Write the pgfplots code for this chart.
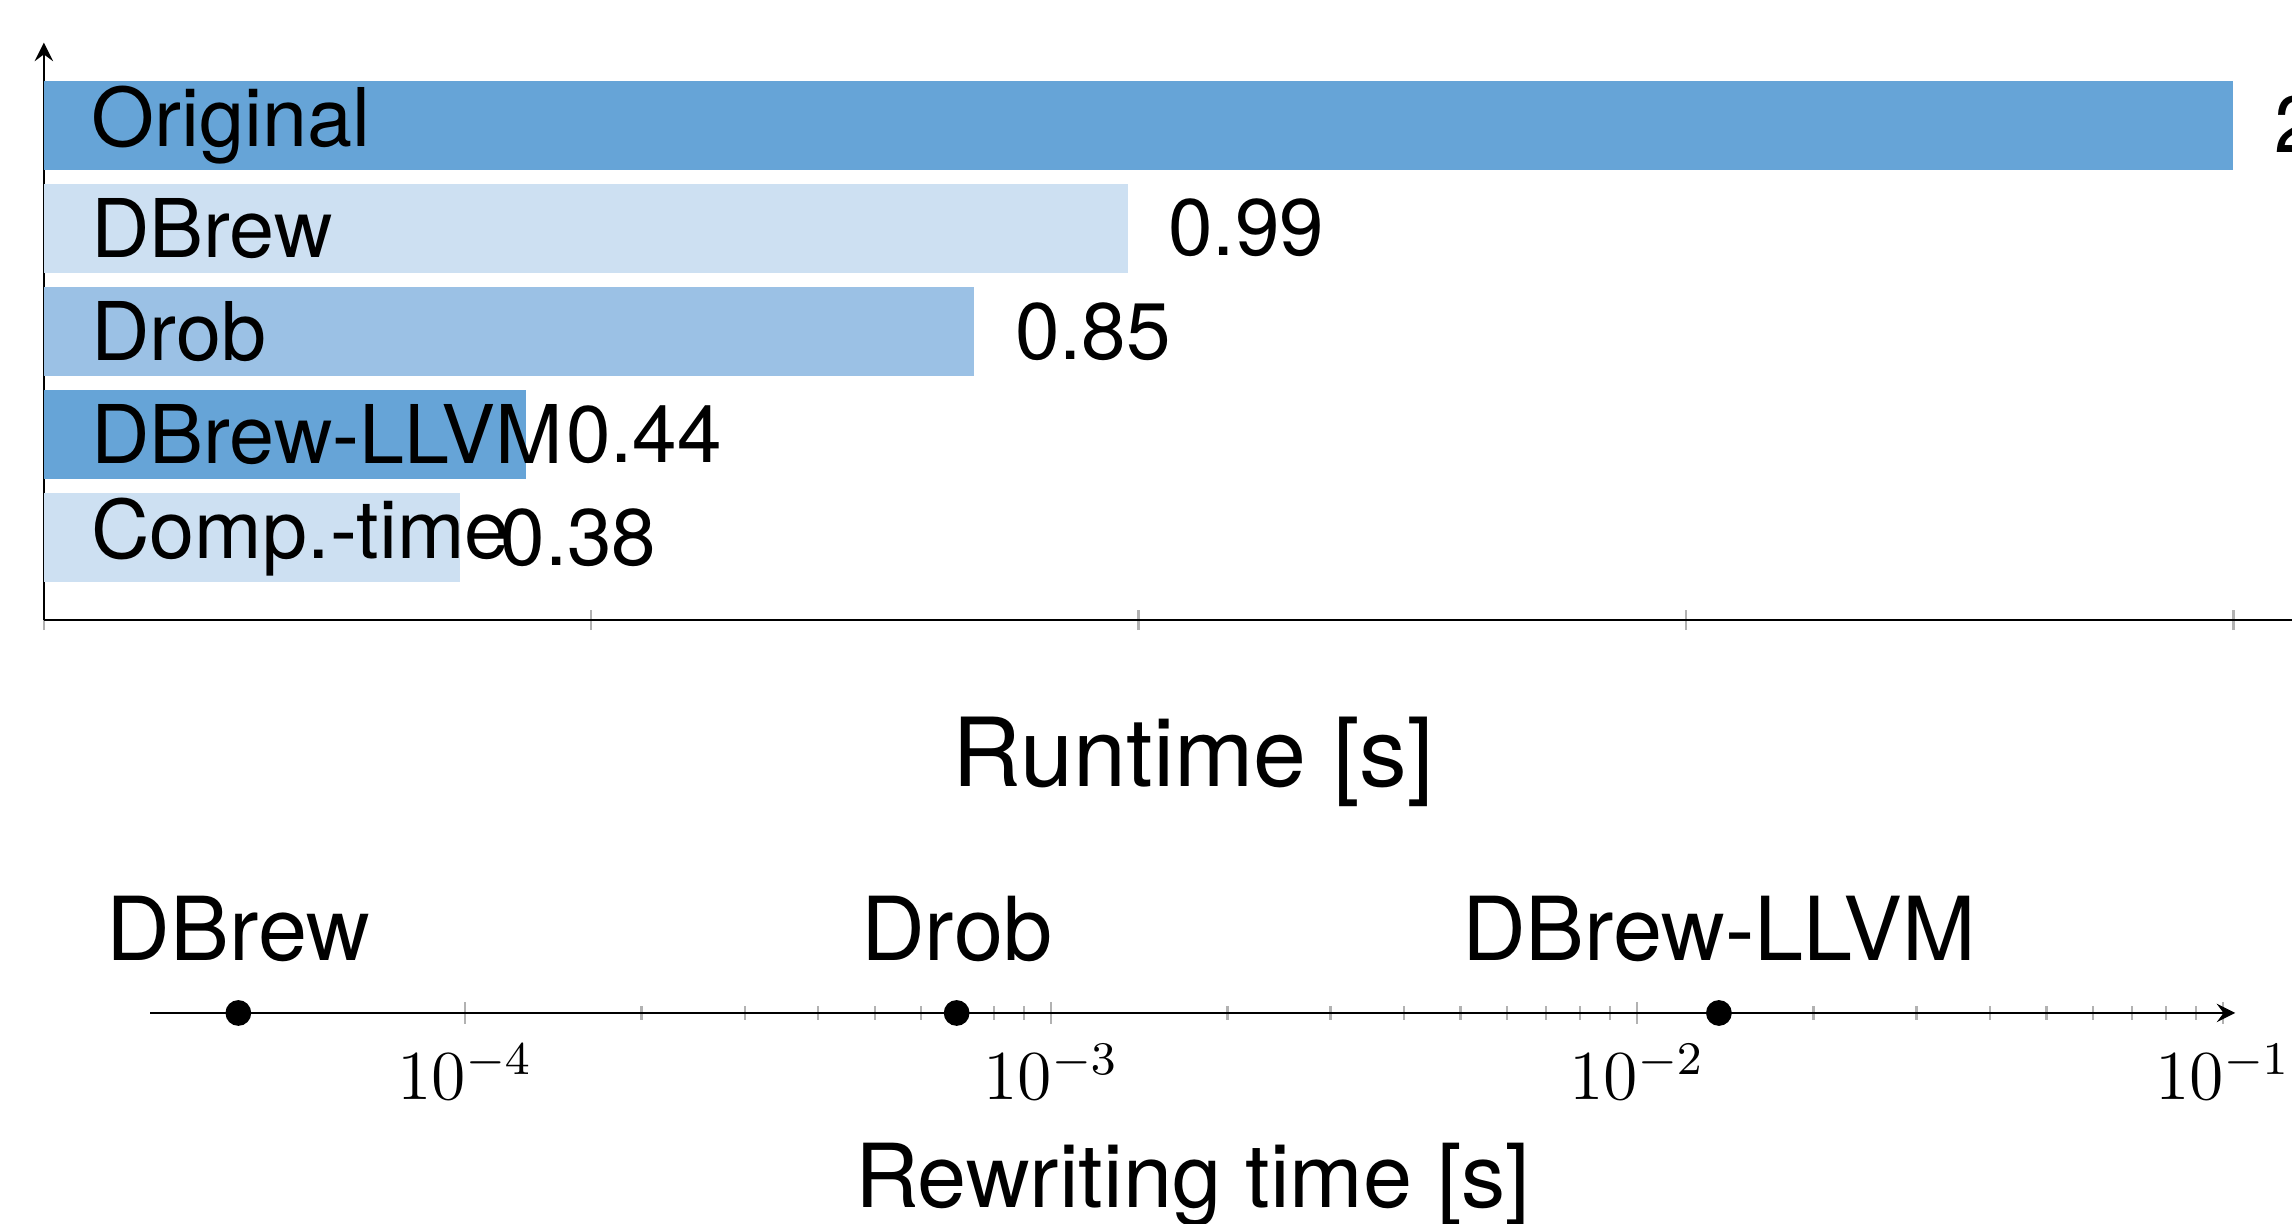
\documentclass[border=0pt]{standalone}
\usepackage{fontspec}
\setmainfont{TeX Gyre Heros}
\usepackage{pgfplots}
\pgfplotsset{compat=1.18}
\definecolor{cDark}{HTML}{66A4D7}
\definecolor{cLight}{HTML}{CDE0F2}
\definecolor{cMid}{HTML}{9BC1E5}
\pgfplotsset{
  valbar/.style={draw=none, bar shift=0pt, nodes near coords,
    every node near coord/.append style={anchor=west, inner sep=0pt, xshift=6.75pt, font=\fontsize{13.7}{16}\selectfont, text=black}},
}
\begin{document}
\begin{tikzpicture}
\useasboundingbox (0,0) rectangle (392pt,209.25pt);
\begin{axis}[
  at={(7.5pt,103.25pt)}, anchor=south west,
  scale only axis, width=393.2pt, height=98.7pt,
  xmin=0, xmax=2.1, ymin=-0.8, ymax=4.8,
  xbar, bar width=0.865, bar shift=0pt,
  axis x line=bottom, axis y line=left,
  axis line style={black, line width=0.4pt},
  xtick={0,0.5,1,1.5,2}, xticklabels={,,,,},
  tick align=center, major tick length=3.5pt,
  x tick style={gray!60, line width=0.4pt},
  ytick=\empty,
  /pgf/number format/fixed, /pgf/number format/fixed zerofill, /pgf/number format/precision=2,
  /pgf/number format/assume math mode=true,
  xlabel={Runtime [s]},
  xlabel style={at={(axis description cs:0.5,0)}, anchor=base, yshift=-28.5pt, font=\fontsize{16.3}{19}\selectfont},
]
\addplot[valbar, fill=cDark] coordinates {(2.00,4)};
\addplot[valbar, fill=cLight] coordinates {(0.99,3)};
\addplot[valbar, fill=cMid] coordinates {(0.85,2)};
\addplot[valbar, fill=cDark] coordinates {(0.44,1)};
\addplot[valbar, fill=cLight] coordinates {(0.38,0)};
% category names, written inside the bars
\addplot[draw=none, fill=none, bar shift=0pt, nodes near coords, point meta=explicit symbolic,
  every node near coord/.append style={anchor=west, inner sep=0pt, xshift=7.9pt, font=\fontsize{13.85}{16}\selectfont, text=black}]
  table[meta=label] {
x y label
0 4 Original
0 3 DBrew
0 2 Drob
0 1 DBrew-LLVM
0 0 Comp.-time
};
\end{axis}
\begin{axis}[
  at={(25.7pt,26pt)}, anchor=south west,
  scale only axis, width=356.6pt, height=20pt,
  xmode=log, xmin=2.9e-5, xmax=0.105, ymin=-1, ymax=1,
  axis x line=middle, axis y line=none,
  axis line style={black, line width=0.4pt},
  tick align=center, major tick length=3.6pt, minor tick length=2.3pt,
  x tick style={gray!60, line width=0.4pt},
  xtick={1e-4,1e-3,1e-2,1e-1},
  xticklabel style={font=\fontsize{12}{14}\selectfont},
  xlabel={Rewriting time [s]},
  xlabel style={at={(axis description cs:0.5,0.5)}, anchor=base, yshift=-33.25pt, font=\fontsize{15.1}{18}\selectfont},
  nodes near coords, point meta=explicit symbolic,
  every node near coord/.append style={anchor=base, inner sep=0pt, yshift=9pt, font=\fontsize{15.1}{18}\selectfont, text=black},
  clip=false,
]
\addplot[only marks, mark=*, mark size=2pt, black] table[meta=label] {
x y label
4.1e-5 0 DBrew
6.9e-4 0 Drob
0.0138 0 DBrew-LLVM
};
\end{axis}
\end{tikzpicture}
\end{document}
